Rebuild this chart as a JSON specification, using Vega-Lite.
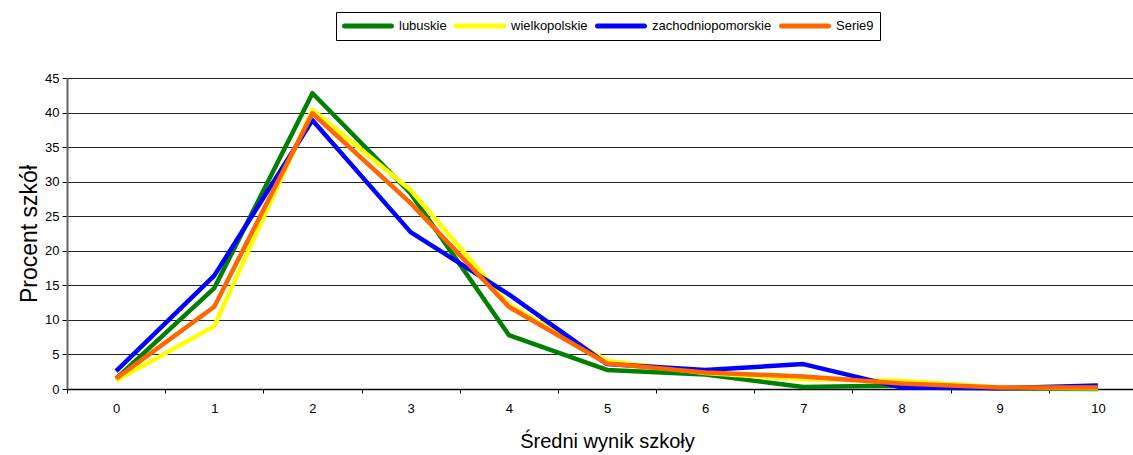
{
  "$schema": "https://vega.github.io/schema/vega-lite/v6.json",
  "width": 1066,
  "height": 311,
  "autosize": {"type": "none"},
  "padding": {"left": 67, "top": 78, "right": 0, "bottom": 66},
  "background": "white",
  "config": {"font": "Liberation Sans", "view": {"stroke": null}},
  "data": {
    "values": [
      {"wynik": 0, "procent": 1.5, "seria": "lubuskie"},
      {"wynik": 1, "procent": 14.6, "seria": "lubuskie"},
      {"wynik": 2, "procent": 42.8, "seria": "lubuskie"},
      {"wynik": 3, "procent": 28.3, "seria": "lubuskie"},
      {"wynik": 4, "procent": 7.8, "seria": "lubuskie"},
      {"wynik": 5, "procent": 2.75, "seria": "lubuskie"},
      {"wynik": 6, "procent": 2.1, "seria": "lubuskie"},
      {"wynik": 7, "procent": 0.3, "seria": "lubuskie"},
      {"wynik": 8, "procent": 0.5, "seria": "lubuskie"},
      {"wynik": 9, "procent": 0.1, "seria": "lubuskie"},
      {"wynik": 10, "procent": 0.0, "seria": "lubuskie"},
      {"wynik": 0, "procent": 1.2, "seria": "wielkopolskie"},
      {"wynik": 1, "procent": 9.1, "seria": "wielkopolskie"},
      {"wynik": 2, "procent": 40.4, "seria": "wielkopolskie"},
      {"wynik": 3, "procent": 28.8, "seria": "wielkopolskie"},
      {"wynik": 4, "procent": 12.2, "seria": "wielkopolskie"},
      {"wynik": 5, "procent": 4.1, "seria": "wielkopolskie"},
      {"wynik": 6, "procent": 2.3, "seria": "wielkopolskie"},
      {"wynik": 7, "procent": 1.4, "seria": "wielkopolskie"},
      {"wynik": 8, "procent": 1.2, "seria": "wielkopolskie"},
      {"wynik": 9, "procent": 0.2, "seria": "wielkopolskie"},
      {"wynik": 10, "procent": 0.1, "seria": "wielkopolskie"},
      {"wynik": 0, "procent": 2.6, "seria": "zachodniopomorskie"},
      {"wynik": 1, "procent": 16.4, "seria": "zachodniopomorskie"},
      {"wynik": 2, "procent": 38.9, "seria": "zachodniopomorskie"},
      {"wynik": 3, "procent": 22.7, "seria": "zachodniopomorskie"},
      {"wynik": 4, "procent": 13.7, "seria": "zachodniopomorskie"},
      {"wynik": 5, "procent": 3.6, "seria": "zachodniopomorskie"},
      {"wynik": 6, "procent": 2.75, "seria": "zachodniopomorskie"},
      {"wynik": 7, "procent": 3.6, "seria": "zachodniopomorskie"},
      {"wynik": 8, "procent": 0.2, "seria": "zachodniopomorskie"},
      {"wynik": 9, "procent": 0.1, "seria": "zachodniopomorskie"},
      {"wynik": 10, "procent": 0.5, "seria": "zachodniopomorskie"},
      {"wynik": 0, "procent": 1.5, "seria": "Serie9"},
      {"wynik": 1, "procent": 11.9, "seria": "Serie9"},
      {"wynik": 2, "procent": 39.9, "seria": "Serie9"},
      {"wynik": 3, "procent": 26.9, "seria": "Serie9"},
      {"wynik": 4, "procent": 11.9, "seria": "Serie9"},
      {"wynik": 5, "procent": 3.7, "seria": "Serie9"},
      {"wynik": 6, "procent": 2.4, "seria": "Serie9"},
      {"wynik": 7, "procent": 1.8, "seria": "Serie9"},
      {"wynik": 8, "procent": 0.8, "seria": "Serie9"},
      {"wynik": 9, "procent": 0.2, "seria": "Serie9"},
      {"wynik": 10, "procent": 0.2, "seria": "Serie9"}
    ]
  },
  "mark": {"type": "line", "strokeWidth": 4.5, "strokeJoin": "round", "strokeCap": "butt"},
  "encoding": {
    "x": {
      "field": "wynik",
      "type": "ordinal",
      "scale": {"type": "band", "paddingInner": 0, "paddingOuter": 0, "range": [0, 1080]},
      "axis": {
        "title": "Średni wynik szkoły",
        "titleFontSize": 20,
        "titleFontWeight": "normal",
        "titleColor": "black",
        "titlePadding": 16,
        "labelAngle": 0,
        "labelFontSize": 13,
        "labelColor": "black",
        "labelPadding": 9,
        "tickBand": "extent",
        "tickSize": 4,
        "tickColor": "black",
        "domainColor": "black",
        "domainWidth": 1.5,
        "grid": false
      }
    },
    "y": {
      "field": "procent",
      "type": "quantitative",
      "scale": {"domain": [0, 45], "nice": false},
      "axis": {
        "title": "Procent szkół",
        "titleFontSize": 23,
        "titleFontWeight": "normal",
        "titleColor": "black",
        "titlePadding": 3,
        "values": [0, 5, 10, 15, 20, 25, 30, 35, 40, 45],
        "labelFontSize": 13,
        "labelColor": "black",
        "labelPadding": 3,
        "tickSize": 5,
        "tickColor": "black",
        "domainColor": "#666",
        "domainWidth": 2,
        "grid": true,
        "gridColor": "#222",
        "gridWidth": 1
      }
    },
    "color": {
      "field": "seria",
      "type": "nominal",
      "sort": ["lubuskie", "wielkopolskie", "zachodniopomorskie", "Serie9"],
      "scale": {
        "domain": ["lubuskie", "wielkopolskie", "zachodniopomorskie", "Serie9"],
        "range": ["#008000", "#FFFF00", "#0000FF", "#FF6600"]
      },
      "legend": {
        "title": null,
        "orient": "none",
        "legendX": 269,
        "legendY": -66,
        "direction": "horizontal",
        "strokeColor": "black",
        "fillColor": "white",
        "padding": 6,
        "clipHeight": 16,
        "symbolType": "stroke",
        "symbolStrokeWidth": 5,
        "symbolSize": 2200,
        "labelFontSize": 13,
        "labelColor": "black",
        "labelOffset": 5,
        "columnPadding": 7,
        "encode": {"symbols": {"update": {"strokeCap": {"value": "round"}}}}
      }
    }
  }
}
